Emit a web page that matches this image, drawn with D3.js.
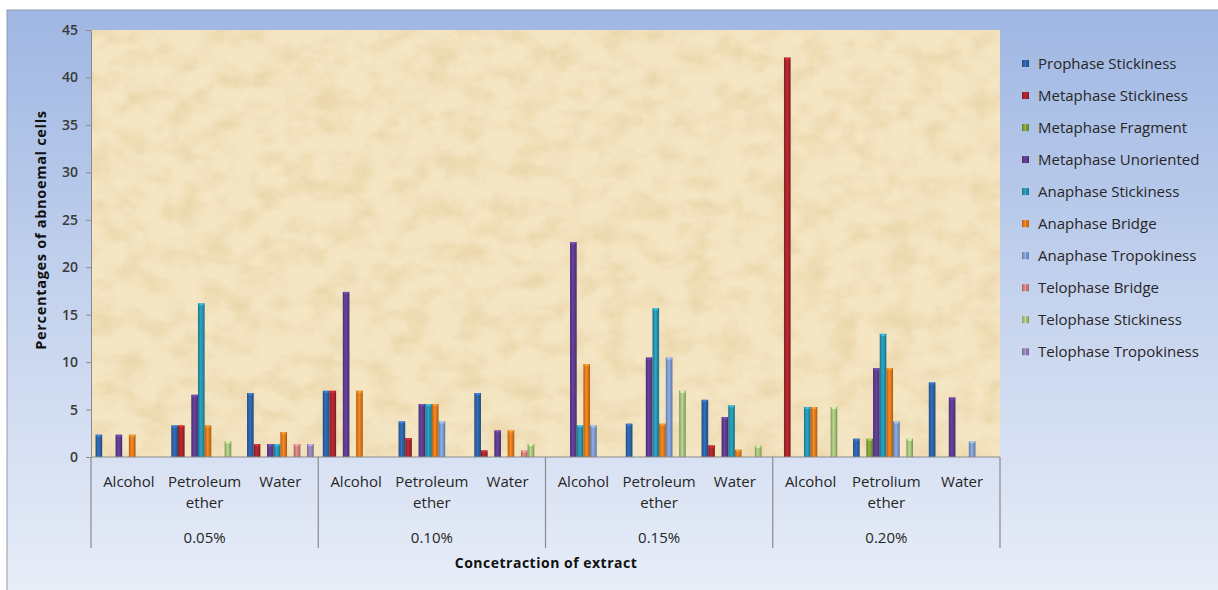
<!DOCTYPE html>
<html><head><meta charset="utf-8">
<script src="https://cdn.jsdelivr.net/npm/d3@7"></script>
<style>html,body{margin:0;padding:0;background:#fff;}svg{display:block;font-family:"Open Sans",sans-serif;}</style>
</head><body>
<svg id="chart" width="1218" height="590"></svg>
<script>
const groups = ["0.05%", "0.10%", "0.15%", "0.20%"];
const categories = ["Alcohol", "Petroleum ether", "Water", "Alcohol", "Petroleum ether", "Water", "Alcohol", "Petroleum ether", "Water", "Alcohol", "Petrolium ether", "Water"];
const seriesNames = ["Prophase Stickiness", "Metaphase Stickiness", "Metaphase Fragment", "Metaphase Unoriented", "Anaphase Stickiness", "Anaphase Bridge", "Anaphase Tropokiness", "Telophase Bridge", "Telophase Stickiness", "Telophase Tropokiness"];
const prophaseStickiness   = [2.35, 3.33, 6.74, 6.98, 3.75, 6.74, 0, 3.51, 6.03, 0, 1.93, 7.86];
const metaphaseStickiness  = [0, 3.33, 1.37, 6.98, 2.0, 0.7, 0, 0, 1.23, 42.1, 0, 0];
const metaphaseFragment    = [0, 0, 0, 0, 0, 0, 0, 0, 0, 0, 1.93, 0];
const metaphaseUnoriented  = [2.35, 6.56, 1.37, 17.4, 5.58, 2.8, 22.64, 10.49, 4.21, 0, 9.37, 6.28];
const anaphaseStickiness   = [0, 16.2, 1.37, 0, 5.58, 0, 3.33, 15.69, 5.44, 5.27, 12.98, 0];
const anaphaseBridge       = [2.35, 3.33, 2.63, 6.98, 5.58, 2.8, 9.79, 3.51, 0.77, 5.27, 9.37, 0];
const anaphaseTropokiness  = [0, 0, 0, 0, 3.75, 0, 3.33, 10.49, 0, 0, 3.75, 1.65];
const telophaseBridge      = [0, 0, 1.37, 0, 0, 0.7, 0, 0, 0, 0, 0, 0];
const telophaseStickiness  = [0, 1.65, 0, 0, 0, 1.37, 0, 6.98, 1.19, 5.27, 1.93, 0];
const telophaseTropokiness = [0, 0, 1.37, 0, 0, 0, 0, 0, 0, 0, 0, 0];
const seriesValues = [prophaseStickiness, metaphaseStickiness, metaphaseFragment, metaphaseUnoriented, anaphaseStickiness, anaphaseBridge, anaphaseTropokiness, telophaseBridge, telophaseStickiness, telophaseTropokiness];
const yTicks = [0, 5, 10, 15, 20, 25, 30, 35, 40, 45];
const colors = ["#2c63a8", "#a8262c", "#7fa03c", "#5e3c8e", "#2694b0", "#e07a1c", "#7d9bd0", "#d07f7d", "#a5c27d", "#9682b7"];

const svg = d3.select("#chart");
const defs = svg.append("defs");

const bg = defs.append("linearGradient").attr("id", "bg").attr("x1", 0).attr("y1", 0).attr("x2", 0).attr("y2", 1);
bg.append("stop").attr("offset", "0%").attr("stop-color", "#9fb7e3");
bg.append("stop").attr("offset", "55%").attr("stop-color", "#c9d6ef");
bg.append("stop").attr("offset", "100%").attr("stop-color", "#e9eef8");

// paper texture
const f = defs.append("filter").attr("id", "paper").attr("x", 0).attr("y", 0).attr("width", 1).attr("height", 1)
  .attr("color-interpolation-filters", "sRGB");
f.append("feTurbulence").attr("type", "fractalNoise").attr("baseFrequency", "0.035 0.045").attr("numOctaves", 5).attr("seed", 11).attr("result", "n");
f.append("feColorMatrix").attr("in", "n").attr("type", "matrix")
  .attr("values", "0 0 0 0 0.86  0 0 0 0 0.74  0 0 0 0 0.50  2.6 0 0 0 -1.05");

colors.forEach((c, i) => {
  const g = defs.append("linearGradient").attr("id", "bar" + i).attr("x1", 0).attr("y1", 0).attr("x2", 1).attr("y2", 0);
  const base = d3.color(c);
  g.append("stop").attr("offset", "0%").attr("stop-color", base.darker(0.7));
  g.append("stop").attr("offset", "45%").attr("stop-color", base.brighter(0.35));
  g.append("stop").attr("offset", "100%").attr("stop-color", base.darker(0.8));
});

svg.append("rect").attr("x", 7).attr("y", 10).attr("width", 1220).attr("height", 590)
  .attr("fill", "url(#bg)").attr("stroke", "#8c9bb0").attr("stroke-width", 1);

const plot = {left: 91, right: 1000, top: 30, bottom: 457};
const x0 = d3.scaleBand().domain(d3.range(categories.length)).range([plot.left, plot.right]).paddingInner(0).paddingOuter(0);
const x1 = d3.scaleBand().domain(d3.range(seriesNames.length)).range([0, x0.bandwidth()]).paddingInner(0).paddingOuter(0.68);
const y = d3.scaleLinear().domain([0, 45]).range([plot.bottom, plot.top]);

svg.append("rect").attr("x", plot.left).attr("y", plot.top).attr("width", plot.right - plot.left).attr("height", plot.bottom - plot.top).attr("fill", "#f4e5c3");
svg.append("rect").attr("x", plot.left).attr("y", plot.top).attr("width", plot.right - plot.left).attr("height", plot.bottom - plot.top).attr("fill", "#fff").attr("filter", "url(#paper)").attr("opacity", 0.3);

const barData = [];
seriesValues.forEach((vals, s) => vals.forEach((v, c) => { if (v > 0) barData.push({s, c, v}); }));
const bars = svg.append("g");
bars.selectAll("rect.bar").data(barData).join("rect").attr("class", "bar")
  .attr("x", d => x0(d.c) + x1(d.s)).attr("width", x1.bandwidth())
  .attr("y", d => y(d.v)).attr("height", d => y(0) - y(d.v))
  .attr("fill", d => "url(#bar" + d.s + ")");
bars.selectAll("rect.cap").data(barData).join("rect").attr("class", "cap")
  .attr("x", d => x0(d.c) + x1(d.s) + 1).attr("width", x1.bandwidth() - 2)
  .attr("y", d => y(d.v)).attr("height", 2)
  .attr("fill", d => d3.color(colors[d.s]).brighter(0.9)).attr("opacity", 0.8);

const yAxis = d3.axisLeft(y).tickValues(yTicks).tickSize(5).tickPadding(8);
const ya = svg.append("g").attr("transform", `translate(${plot.left},0)`).call(yAxis);
ya.select(".domain").attr("stroke", "#8a8a8a");
ya.selectAll(".tick line").attr("stroke", "#8a8a8a");
ya.selectAll(".tick text").attr("font-family", "Open Sans").attr("font-size", 14).attr("font-weight", 600).attr("fill", "#3a3a3a");

svg.append("line").attr("x1", plot.left).attr("x2", plot.right).attr("y1", plot.bottom).attr("y2", plot.bottom).attr("stroke", "#8a8a8a");

const groupBounds = d3.range(groups.length + 1).map(i => i < groups.length ? x0(i * 3) : plot.right);
svg.append("g").selectAll("line").data(groupBounds).join("line")
  .attr("x1", d => d).attr("x2", d => d).attr("y1", plot.bottom).attr("y2", 548)
  .attr("stroke", "#8a8a8a").attr("stroke-width", 1.2);

const catG = svg.append("g").attr("font-size", 15).attr("fill", "#262626").attr("text-anchor", "middle");
categories.forEach((c, i) => {
  const cx = x0(i) + x0.bandwidth() / 2;
  c.split(" ").forEach((w, j) => {
    catG.append("text").attr("x", cx).attr("y", 487 + j * 21).text(w);
  });
});
svg.append("g").selectAll("text").data(groups).join("text")
  .attr("x", (d, i) => (groupBounds[i] + groupBounds[i + 1]) / 2).attr("y", 543)
  .attr("text-anchor", "middle").attr("font-size", 15).attr("fill", "#262626").text(d => d);

svg.append("text").attr("x", 546).attr("y", 568).attr("text-anchor", "middle")
  .attr("font-size", 14).attr("font-weight", "bold").attr("letter-spacing", 0.5).attr("fill", "#111").text("Concetraction of extract");
svg.append("text").attr("transform", "translate(46,230) rotate(-90)").attr("text-anchor", "middle")
  .attr("font-size", 14.5).attr("font-weight", "bold").attr("letter-spacing", 0.7).attr("fill", "#111").text("Percentages of abnoemal cells");

const leg = svg.append("g").selectAll("g").data(seriesNames).join("g")
  .attr("transform", (d, i) => `translate(1022,${64 + i * 32.03})`);
leg.append("rect").attr("x", 0).attr("y", -4).attr("width", 7).attr("height", 7)
  .attr("fill", (d, i) => "url(#bar" + i + ")");
leg.append("text").attr("x", 16).attr("y", 5).attr("font-size", 15).attr("fill", "#262626").text(d => d);
</script>
</body></html>
